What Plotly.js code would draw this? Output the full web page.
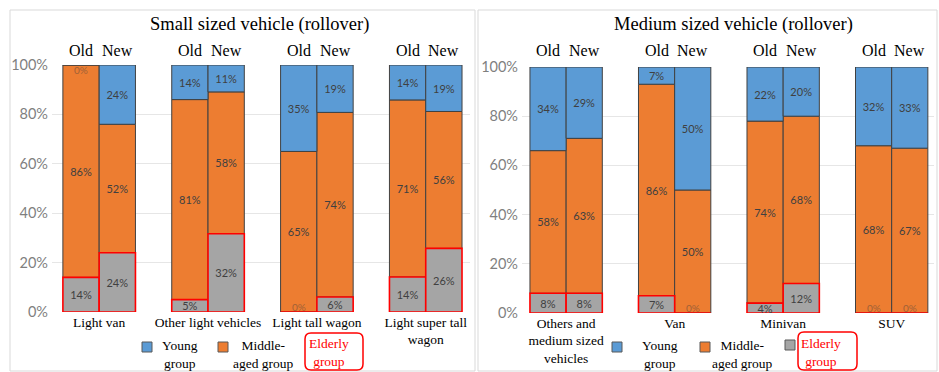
<!DOCTYPE html>
<html>
<head>
<meta charset="utf-8">
<script src="https://cdn.plot.ly/plotly-3.0.1.min.js"></script>
<style>
  html, body { margin: 0; padding: 0; background: #ffffff; }
  #chart { width: 939px; height: 372px; }
</style>
</head>
<body>
<div id="chart"></div>
<script>
// Rollover accident share by driver age group, old vs new vehicle models.
const periods = ['Old', 'New'];
const groupNames = ['Young group', 'Middle-aged group', 'Elderly group'];

const smallCats = ['Light van', 'Other light vehicles', 'Light tall wagon', 'Light super tall<br>wagon'];
// each pair: Old, New
const smallYoung   = [0, 24, 14, 11, 35, 19, 14, 19];
const smallMiddle  = [86, 52, 81, 58, 65, 74, 71, 56];
const smallElderly = [14, 24, 5, 32, 0, 6, 14, 26];

const mediumCats = ['Others and<br>medium sized<br>vehicles', 'Van', 'Minivan', 'SUV'];
const mediumYoung   = [34, 29, 7, 50, 22, 20, 32, 33];
const mediumMiddle  = [58, 63, 86, 50, 74, 68, 68, 67];
const mediumElderly = [8, 8, 7, 0, 4, 12, 0, 0];

const COLORS = { young: '#5B9BD5', middle: '#ED7D31', elderly: '#A5A5A5' };
const SERIF = 'Liberation Serif, Times New Roman, serif';
const SANS = 'Lato, Carlito, Calibri, sans-serif';

const W = 939, H = 372;
const px = v => v / W;          // pixel -> paper x
const py = v => 1 - v / H;      // pixel -> paper y

// Each category holds an Old and a New column followed by one empty slot.
function slots(cats) {
  const xs = [];
  cats.forEach((c, ci) => periods.forEach((p, pi) => xs.push(ci * 3 + pi)));
  return xs;
}
const catCenters = cats => cats.map((c, ci) => ci * 3 + 0.5);
const periodLabels = cats => cats.flatMap(() => periods);

const darkLine = { color: '#404040', width: 1 };
const redLine = { color: '#FF0000', width: 1.6 };

// 100% stacked columns: shares are scaled so every column fills 0-100,
// the elderly segments are drawn last so their red outline stays on top.
function panel(cats, young, middle, elderly, xa, ya) {
  const xs = slots(cats);
  const tot = xs.map((_, i) => young[i] + middle[i] + elderly[i]);
  const norm = arr => arr.map((v, i) => v / tot[i] * 100);
  const e = norm(elderly), m = norm(middle), y = norm(young);
  const mk = (vals, shares, base, name, color, line) => ({
    type: 'bar', x: xs, y: shares, base: base, name: name,
    xaxis: xa, yaxis: ya, width: 1,
    marker: { color: color, line: line },
    text: vals.map(v => v + '%'),
    textposition: 'inside', insidetextanchor: 'middle',
    constraintext: 'none', textangle: 0,
    textfont: { family: SANS, size: 11, color: '#404040' },
    hoverinfo: 'skip', showlegend: false
  });
  const zeroLabels = [];
  xs.forEach((x, i) => {
    if (young[i] === 0) zeroLabels.push([x, 100]);
    if (elderly[i] === 0) zeroLabels.push([x, 0]);
  });
  return {
    traces: [
      mk(middle, m, e, groupNames[1], COLORS.middle, darkLine),
      mk(young, y, e.map((v, i) => v + m[i]), groupNames[0], COLORS.young, darkLine),
      mk(elderly, e, xs.map(() => 0), groupNames[2], COLORS.elderly, redLine)
    ],
    zeroLabels: zeroLabels, xs: xs
  };
}

const small = panel(smallCats, smallYoung, smallMiddle, smallElderly, 'x', 'y');
const medium = panel(mediumCats, mediumYoung, mediumMiddle, mediumElderly, 'x2', 'y2');
const data = small.traces.concat(medium.traces);

function xAxis(domain, range, cats, anchor) {
  return {
    domain: domain, range: range, anchor: anchor, fixedrange: true,
    showgrid: false, zeroline: false, showline: false, ticks: '',
    tickmode: 'array', tickvals: catCenters(cats), ticktext: cats,
    tickfont: { family: SERIF, size: 13.5, color: '#000000' }
  };
}
function yAxis(domain, anchor) {
  return {
    domain: domain, range: [0, 100], anchor: anchor, fixedrange: true,
    dtick: 20, ticksuffix: '%', ticks: '', ticklabelstandoff: 3,
    showgrid: true, gridcolor: '#e6e6e6', gridwidth: 1,
    zeroline: false, showline: false,
    tickfont: { family: SANS, size: 14.5, color: '#7f7f7f' }
  };
}

const annotations = [];
function text(t, x, y, size, color, extra) {
  annotations.push(Object.assign({
    text: t, x: x, y: y, xref: 'paper', yref: 'paper',
    showarrow: false, xanchor: 'center', yanchor: 'middle',
    font: { family: SERIF, size: size, color: color || '#000000' }
  }, extra || {}));
}

// panel titles
text('Small sized vehicle (rollover)', px(259), py(25), 18.5);
text('Medium sized vehicle (rollover)', px(733), py(25), 18.5);

// Old / New headers above each column, and the 0% labels of empty segments
[['x', 'y', smallCats, small], ['x2', 'y2', mediumCats, medium]].forEach(([xa, ya, cats, p]) => {
  const labels = periodLabels(cats);
  p.xs.forEach((x, i) => {
    annotations.push({
      text: labels[i], x: x, y: py(51), xref: xa, yref: 'paper',
      showarrow: false, xanchor: 'center', yanchor: 'middle',
      font: { family: SERIF, size: 16, color: '#000000' }
    });
  });
  p.zeroLabels.forEach(([x, v]) => {
    annotations.push({
      text: '0%', x: x, y: v, xref: xa, yref: ya,
      showarrow: false, xanchor: 'center',
      yanchor: v === 0 ? 'bottom' : 'top', yshift: v === 0 ? -2 : 2,
      borderpad: 0, opacity: 0.45,
      font: { family: SANS, size: 10, color: '#404040' }
    });
  });
});

const shapes = [];
// panel frames
shapes.push({ type: 'rect', xref: 'paper', yref: 'paper', x0: px(10), x1: px(475), y0: py(371), y1: py(10),
  line: { color: '#d9d9d9', width: 1 } });
shapes.push({ type: 'rect', xref: 'paper', yref: 'paper', x0: px(478), x1: px(937), y0: py(371), y1: py(10),
  line: { color: '#d9d9d9', width: 1 } });

function swatch(cx, cy, color) {
  shapes.push({ type: 'rect', xref: 'paper', yref: 'paper',
    x0: px(cx - 5), x1: px(cx + 5), y0: py(cy + 5), y1: py(cy - 5),
    fillcolor: color, line: { color: '#595959', width: 1 } });
}
function roundBox(x0, y0, x1, y1, r) {
  const P = (x, y) => px(x) + ',' + py(y);
  const d = 'M' + P(x0 + r, y0) + ' L' + P(x1 - r, y0) + ' Q' + P(x1, y0) + ' ' + P(x1, y0 + r) +
    ' L' + P(x1, y1 - r) + ' Q' + P(x1, y1) + ' ' + P(x1 - r, y1) +
    ' L' + P(x0 + r, y1) + ' Q' + P(x0, y1) + ' ' + P(x0, y1 - r) +
    ' L' + P(x0, y0 + r) + ' Q' + P(x0, y0) + ' ' + P(x0 + r, y0) + ' Z';
  shapes.push({ type: 'path', xref: 'paper', yref: 'paper', path: d,
    line: { color: '#FF0000', width: 1.5 } });
}

// legend, small panel
swatch(147, 347, COLORS.young);
text('Young<br>group', px(180), py(354), 13.5);
swatch(223, 347, COLORS.middle);
text('Middle-<br>aged group', px(263), py(354), 13.5);
text('Elderly<br>group', px(329), py(352), 13.5, '#FF0000');
roundBox(305, 333, 363, 370, 6);

// legend, medium panel
swatch(617, 347, COLORS.young);
text('Young<br>group', px(660), py(354), 13.5);
swatch(705, 347, COLORS.middle);
text('Middle-<br>aged group', px(742), py(354), 13.5);
swatch(790, 345, COLORS.elderly);
text('Elderly<br>group', px(821), py(352), 13.5, '#FF0000');
roundBox(798, 332, 857, 370, 6);

const layout = {
  width: W, height: H,
  margin: { l: 0, r: 0, t: 0, b: 0, pad: 0 },
  paper_bgcolor: '#ffffff', plot_bgcolor: 'rgba(0,0,0,0)',
  barmode: 'overlay', bargap: 0,
  showlegend: false,
  xaxis: xAxis([px(52), px(470)], [-0.8, 10.72], smallCats, 'y'),
  yaxis: yAxis([py(312), py(65)], 'x'),
  xaxis2: xAxis([px(522), px(934)], [-0.72, 10.67], mediumCats, 'y2'),
  yaxis2: yAxis([py(313), py(67)], 'x2'),
  annotations: annotations,
  shapes: shapes
};

Plotly.newPlot('chart', data, layout, { staticPlot: true, displayModeBar: false });
</script>
</body>
</html>
